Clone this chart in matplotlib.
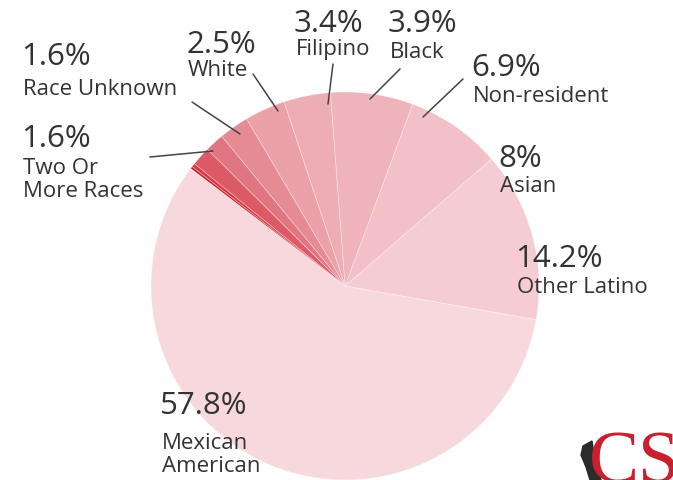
import matplotlib.pyplot as plt
from matplotlib.patches import Polygon

# enrollment share by group (%), counterclockwise from the right side
groups = ["Other Latino", "Asian", "Non-resident", "Black", "Filipino", "White",
          "Race Unknown", "Two Or\nMore Races", "American Indian", "Pacific Islander",
          "Mexican\nAmerican"]
shares = [14.2, 8, 6.9, 3.9, 3.4, 2.5, 1.6, 1.6, 0.3, 0.2, 57.8]
share_labels = ["14.2%", "8%", "6.9%", "3.9%", "3.4%", "2.5%", "1.6%", "1.6%", "", "", "57.8%"]
colors = ["#f4ccd1", "#f2c1c7", "#efb4bb", "#edadb4", "#eaa1a9", "#e58b94",
          "#e07682", "#db5a66", "#dc3542", "#c81a26", "#f7d9dd"]

W, H = 673, 481
fig = plt.figure(figsize=(W / 100, H / 100), dpi=100)
ax = fig.add_axes([0, 0, 1, 1])

ax.pie(shares, colors=colors, startangle=-10, counterclock=True,
       center=(345, H - 287), radius=194,
       wedgeprops=dict(edgecolor=(1, 1, 1, 0.35), linewidth=0.6))
ax.set_xlim(0, W)
ax.set_ylim(0, H)
ax.set_aspect("equal")
ax.axis("off")

font = "Open Sans"
txt = "#333333"

# label placement in pixels: (x, baseline of percentage, baseline of last name line)
spots = {
    "Other Latino": (515, 267, 293),
    "Asian": (498, 167, 192),
    "Non-resident": (471, 76, 102),
    "Black": (388, 32, 58),
    "Filipino": (294, 32, 55),
    "White": (186, 53, 76),
    "Race Unknown": (21, 65, 95),
    "Two Or\nMore Races": (21, 147, 197),
    "Mexican\nAmerican": (160, 414, 472),
}
for g, pct in zip(groups, share_labels):
    if g not in spots:
        continue
    x, yb1, yb2 = spots[g]
    ax.text(x, H - yb1, pct, fontsize=22.5, family=font, color=txt, va="baseline", ha="left")
    ax.text(x + 2, H - yb2, g, fontsize=16, family=font, color=txt, va="baseline",
            ha="left", linespacing=1.15)

# leader lines
leaders = [
    ((150, 158), (213, 152)),
    ((192, 103), (240, 135)),
    ((253, 75), (278, 112)),
    ((333, 65), (328, 105)),
    ((400, 70), (370, 100)),
    ((463, 80), (423, 118)),
]
for (x0, y0), (x1, y1) in leaders:
    ax.plot([x0, x1], [H - y0, H - y1], color="#444444", lw=1.1, solid_capstyle="round")

# logo in the corner
ax.text(589, H - 483, "CS", fontsize=54, family="Liberation Serif", color="#c8202e",
        va="baseline", ha="left")
cal = [(583, 447), (592, 442), (594, 455), (598, 468), (601, 481), (590, 481),
       (586, 468), (581, 456)]
ax.add_patch(Polygon([(x, H - y) for x, y in cal], closed=True, color="#2b2b2b"))

fig.savefig("out.png", dpi=100)
